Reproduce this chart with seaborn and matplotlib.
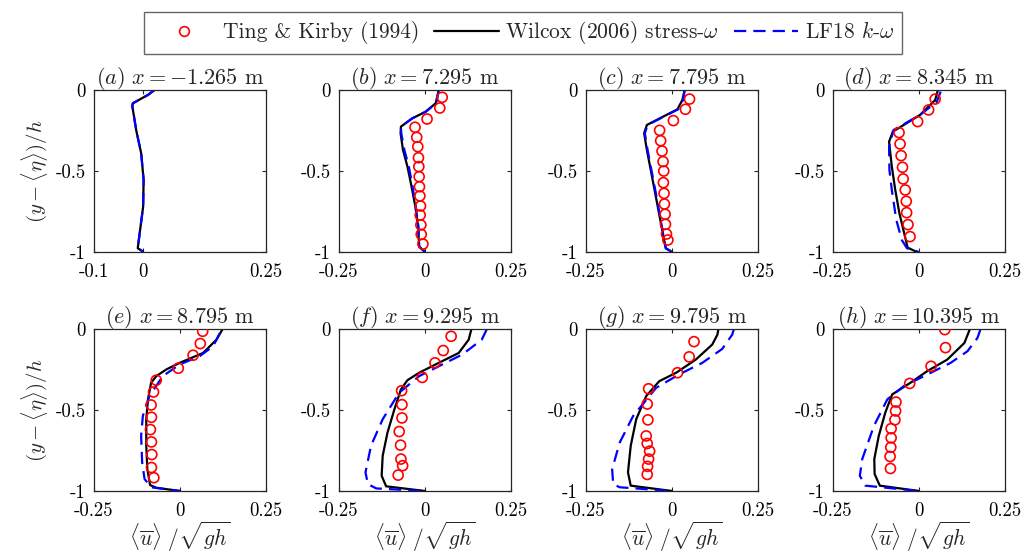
import matplotlib
matplotlib.use("Agg")
import matplotlib.pyplot as plt
import seaborn as sns
from matplotlib.lines import Line2D

sns.set_theme(style="white")
plt.rcParams['font.family'] = ['serif']
plt.rcParams['font.serif'] = ['cmr10', 'DejaVu Serif']
plt.rcParams['mathtext.fontset'] = 'cm'
plt.rcParams['axes.unicode_minus'] = False
plt.rcParams['axes.formatter.use_mathtext'] = True

# ---------------- data ----------------
titles = [r'$(a)\ x=-1.265$ m', r'$(b)\ x=7.295$ m', r'$(c)\ x=7.795$ m', r'$(d)\ x=8.345$ m',
          r'$(e)\ x=8.795$ m', r'$(f)\ x=9.295$ m', r'$(g)\ x=9.795$ m', r'$(h)\ x=10.395$ m']
xlims = [(-0.1, 0.25)] + [(-0.25, 0.25)] * 7
xtick_vals = [[-0.1, 0, 0.25]] + [[-0.25, 0, 0.25]] * 7
xtick_labels = [['-0.1', '0', '0.25']] + [['-0.25', '0', '0.25']] * 7
ytick_vals = [-1, -0.5, 0]
ytick_labels = ['-1', '-0.5', '0']
legend_labels = ['Ting & Kirby (1994)', r'Wilcox (2006) stress-$\omega$', r'LF18 $k$-$\omega$']

# (a)
a_wil_y = [0, -0.03, -0.082, -0.10, -0.25, -0.39, -0.556, -0.72, -0.86, -0.977, -0.99, -1]
a_wil_u = [0.023, 0.01, -0.021, -0.022, -0.014, -0.004, 0.001, 0.0, -0.006, -0.011, -0.004, 0.0]
a_lf_y = [0, -0.03, -0.082, -0.10, -0.25, -0.39, -0.556, -0.72, -0.86, -0.977, -0.99, -1]
a_lf_u = [0.023, 0.01, -0.021, -0.022, -0.014, -0.004, 0.001, 0.0, -0.006, -0.011, -0.004, 0.0]
a_exp_y = []
a_exp_u = []

# (b)
b_wil_y = [0, -0.082, -0.134, -0.175, -0.226, -0.267, -0.37, -0.473, -0.597, -0.72, -0.844, -0.967, -1]
b_wil_u = [0.040, 0.031, 0.002, -0.037, -0.070, -0.071, -0.064, -0.051, -0.039, -0.028, -0.020, -0.017, 0.0]
b_lf_y = [0, -0.082, -0.134, -0.175, -0.226, -0.267, -0.37, -0.473, -0.597, -0.72, -0.844, -0.967, -1]
b_lf_u = [0.040, 0.033, 0.002, -0.037, -0.070, -0.069, -0.060, -0.047, -0.036, -0.027, -0.019, -0.017, 0.0]
b_exp_y = [-0.045, -0.111, -0.179, -0.230, -0.292, -0.35, -0.418, -0.473, -0.535, -0.597, -0.654,
           -0.716, -0.772, -0.833, -0.891, -0.951]
b_exp_u = [0.050, 0.043, 0.006, -0.029, -0.024, -0.021, -0.019, -0.018, -0.017, -0.016, -0.015,
           -0.013, -0.014, -0.012, -0.011, -0.006]

# (c)
c_wil_y = [0, -0.062, -0.119, -0.169, -0.216, -0.267, -0.37, -0.514, -0.658, -0.802, -0.926, -0.977, -1]
c_wil_u = [0.037, 0.030, 0.016, -0.030, -0.073, -0.081, -0.073, -0.060, -0.047, -0.034, -0.023, -0.018, 0.0]
c_lf_y = [0, -0.062, -0.119, -0.169, -0.216, -0.267, -0.37, -0.514, -0.658, -0.802, -0.926, -0.977, -1]
c_lf_u = [0.037, 0.032, 0.018, -0.028, -0.071, -0.079, -0.071, -0.058, -0.045, -0.033, -0.023, -0.018, 0.0]
c_exp_y = [-0.056, -0.119, -0.189, -0.249, -0.313, -0.377, -0.442, -0.5, -0.572, -0.638, -0.704,
           -0.767, -0.829, -0.889, -0.926]
c_exp_u = [0.051, 0.039, 0.004, -0.036, -0.033, -0.029, -0.026, -0.024, -0.025, -0.023, -0.022,
           -0.020, -0.019, -0.016, -0.012]

# (d)
d_wil_y = [0, -0.062, -0.154, -0.257, -0.319, -0.473, -0.617, -0.761, -0.885, -0.973, -1]
d_wil_u = [0.055, 0.047, 0.003, -0.076, -0.087, -0.079, -0.069, -0.057, -0.043, -0.033, -0.006]
d_lf_y = [-0.01, -0.072, -0.154, -0.247, -0.35, -0.494, -0.617, -0.802, -0.926, -0.977, -1]
d_lf_u = [0.063, 0.052, 0.003, -0.074, -0.087, -0.086, -0.079, -0.066, -0.050, -0.035, 0.0]
d_exp_y = [-0.056, -0.123, -0.195, -0.263, -0.333, -0.405, -0.477, -0.549, -0.617, -0.687, -0.757,
           -0.831, -0.905]
d_exp_u = [0.047, 0.028, -0.004, -0.058, -0.055, -0.052, -0.048, -0.046, -0.040, -0.037, -0.036,
           -0.032, -0.026]

# (e)
e_wil_y = [0, -0.066, -0.148, -0.209, -0.25, -0.291, -0.332, -0.434, -0.557, -0.721, -0.865, -0.963, -0.98, -1]
e_wil_u = [0.124, 0.106, 0.067, -0.001, -0.040, -0.069, -0.084, -0.093, -0.098, -0.098, -0.095, -0.087, -0.069, 0.0]
e_lf_y = [-0.025, -0.107, -0.168, -0.219, -0.291, -0.414, -0.537, -0.66, -0.824, -0.926, -0.977, -1]
e_lf_u = [0.116, 0.096, 0.057, -0.001, -0.050, -0.089, -0.108, -0.113, -0.110, -0.103, -0.084, 0.0]
e_exp_y = [-0.014, -0.09, -0.162, -0.242, -0.316, -0.389, -0.469, -0.545, -0.621, -0.697, -0.775,
           -0.855, -0.918]
e_exp_u = [0.066, 0.059, 0.038, -0.005, -0.069, -0.077, -0.084, -0.083, -0.086, -0.083, -0.082,
           -0.083, -0.076]

# (f)
f_wil_y = [0, -0.066, -0.148, -0.209, -0.27, -0.316, -0.373, -0.496, -0.639, -0.783, -0.906, -0.971, -1]
f_wil_u = [0.135, 0.127, 0.098, 0.040, -0.017, -0.051, -0.070, -0.089, -0.109, -0.123, -0.126, -0.113, 0.0]
f_lf_y = [0, -0.066, -0.158, -0.23, -0.291, -0.393, -0.557, -0.721, -0.885, -0.957, -0.984, -1]
f_lf_u = [0.18, 0.165, 0.108, 0.040, -0.017, -0.075, -0.123, -0.157, -0.173, -0.166, -0.142, 0.0]
f_exp_y = [-0.045, -0.133, -0.209, -0.299, -0.381, -0.467, -0.549, -0.633, -0.717, -0.803, -0.844, -0.902]
f_exp_u = [0.076, 0.053, 0.029, -0.008, -0.068, -0.067, -0.067, -0.075, -0.071, -0.070, -0.065, -0.078]

# (g)
g_wil_y = [0, -0.035, -0.096, -0.189, -0.27, -0.322, -0.414, -0.557, -0.721, -0.885, -0.967, -1]
g_wil_u = [0.135, 0.132, 0.117, 0.069, 0.012, -0.037, -0.075, -0.104, -0.120, -0.128, -0.120, 0.0]
g_lf_y = [0, -0.035, -0.123, -0.209, -0.28, -0.363, -0.537, -0.701, -0.865, -0.957, -0.977, -1]
g_lf_u = [0.18, 0.175, 0.146, 0.088, 0.021, -0.046, -0.113, -0.152, -0.174, -0.171, -0.152, 0.0]
g_exp_y = [-0.078, -0.172, -0.27, -0.369, -0.463, -0.561, -0.66, -0.707, -0.754, -0.803, -0.848, -0.898]
g_exp_u = [0.064, 0.050, 0.016, -0.068, -0.072, -0.070, -0.075, -0.072, -0.065, -0.068, -0.071, -0.072]

# (h)
h_wil_y = [0, -0.086, -0.189, -0.26, -0.332, -0.404, -0.516, -0.66, -0.803, -0.895, -0.967, -1]
h_wil_u = [0.148, 0.132, 0.082, 0.024, -0.025, -0.078, -0.098, -0.117, -0.130, -0.129, -0.114, 0.0]
h_lf_y = [0, -0.055, -0.137, -0.209, -0.281, -0.352, -0.434, -0.598, -0.803, -0.906, -0.967, -1]
h_lf_u = [0.179, 0.170, 0.141, 0.092, 0.024, -0.044, -0.092, -0.131, -0.165, -0.172, -0.156, 0.0]
h_exp_y = [-0.004, -0.115, -0.23, -0.336, -0.451, -0.506, -0.561, -0.615, -0.672, -0.73, -0.787, -0.861]
h_exp_u = [0.075, 0.077, 0.035, -0.027, -0.067, -0.068, -0.070, -0.081, -0.081, -0.082, -0.084, -0.083]

wil = [(a_wil_u, a_wil_y), (b_wil_u, b_wil_y), (c_wil_u, c_wil_y), (d_wil_u, d_wil_y),
       (e_wil_u, e_wil_y), (f_wil_u, f_wil_y), (g_wil_u, g_wil_y), (h_wil_u, h_wil_y)]
lf = [(a_lf_u, a_lf_y), (b_lf_u, b_lf_y), (c_lf_u, c_lf_y), (d_lf_u, d_lf_y),
      (e_lf_u, e_lf_y), (f_lf_u, f_lf_y), (g_lf_u, g_lf_y), (h_lf_u, h_lf_y)]
exp = [(a_exp_u, a_exp_y), (b_exp_u, b_exp_y), (c_exp_u, c_exp_y), (d_exp_u, d_exp_y),
       (e_exp_u, e_exp_y), (f_exp_u, f_exp_y), (g_exp_u, g_exp_y), (h_exp_u, h_exp_y)]

# ---------------- layout ----------------
W, H = 1026, 559
fig = plt.figure(figsize=(W / 100, H / 100), dpi=100)
lefts = [94, 339, 586, 833]
tops = [90, 329]
aw, ah = 172, 162

axcol = '#262626'
fs = 13.5

for i in range(8):
    r, c = divmod(i, 4)
    l = lefts[c]
    t = tops[r]
    ax = fig.add_axes([l / W, 1 - (t + ah) / H, aw / W, ah / H])
    ax.set_facecolor('white')
    u, y = wil[i]
    sns.lineplot(x=u, y=y, sort=False, estimator=None, color='black', lw=1.6, ax=ax)
    u, y = lf[i]
    sns.lineplot(x=u, y=y, sort=False, estimator=None, color='#0000ff', lw=1.6,
                 dashes=False, ax=ax, linestyle=(0, (5.5, 3.2)))
    u, y = exp[i]
    if len(u):
        sns.scatterplot(x=u, y=y, marker='o', s=52, facecolors='none', edgecolor='#ff0000',
                        linewidth=1.2, ax=ax, zorder=5)
    ax.set_xlim(*xlims[i])
    ax.set_ylim(-1, 0)
    ax.set_xticks(xtick_vals[i])
    ax.set_xticklabels(xtick_labels[i], fontsize=fs)
    ax.set_yticks(ytick_vals)
    ax.set_yticklabels(ytick_labels, fontsize=fs)
    ax.tick_params(direction='in', length=3, width=0.8, color=axcol, top=True, right=True,
                   bottom=True, left=True, labelcolor='black')
    ax.tick_params(axis='x', pad=8)
    ax.tick_params(axis='y', pad=6)
    for s in ax.spines.values():
        s.set_color(axcol)
        s.set_linewidth(0.9)
        s.set_visible(True)
    ax.set_title(titles[i], fontsize=16, pad=4)
    ax.set_xlabel('')
    ax.set_ylabel('')
    if c == 0:
        ax.set_ylabel(r'$(y-\langle\eta\rangle)/h$', fontsize=15, labelpad=4)
    if r == 1:
        ax.set_xlabel(r'$\langle\overline{u}\rangle\ /\sqrt{gh}$', fontsize=15.5, labelpad=0)
    ax.grid(False)

handles = [
    Line2D([], [], marker='o', ls='none', mfc='none', mec='#ff0000', ms=7, mew=1.2),
    Line2D([], [], color='black', lw=1.6),
    Line2D([], [], color='#0000ff', lw=1.6, ls=(0, (5.5, 3.2))),
]
leg = fig.legend(handles, legend_labels, loc='upper center', ncol=3,
                 bbox_to_anchor=(523 / W, 1 - 1 / H), frameon=True, fancybox=False,
                 fontsize=15.5, handlelength=3.0, columnspacing=0.7, handletextpad=0.3,
                 borderpad=0.35, edgecolor='#666666', framealpha=1)
leg.get_frame().set_linewidth(1.0)

fig.savefig('out.png', dpi=100, facecolor='white')
